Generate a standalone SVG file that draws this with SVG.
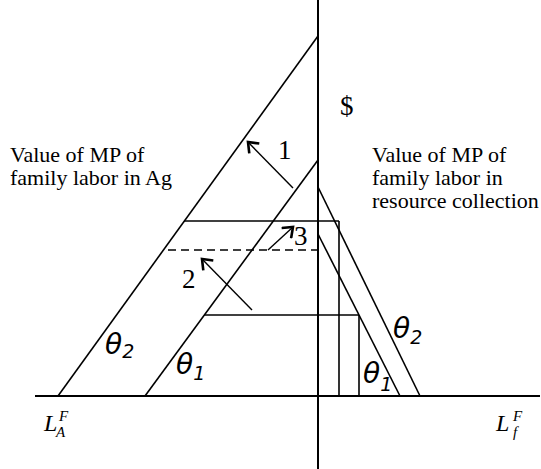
<svg xmlns="http://www.w3.org/2000/svg" width="541" height="469" viewBox="0 0 541 469">
<style>
.ln{stroke:#000;stroke-width:1.6;fill:none}
.ax{stroke:#000;stroke-width:2;fill:none}
.dash{stroke:#000;stroke-width:1.6;fill:none;stroke-dasharray:8 5}
.arr{stroke:#000;stroke-width:1.4;fill:none;marker-end:url(#head)}
.t{font-family:"Liberation Serif","Times New Roman",serif;font-size:22px;fill:#000}
.n{font-family:"Liberation Serif","Times New Roman",serif;font-size:27px;fill:#000}
.th{font-family:"DejaVu Sans",sans-serif;font-style:italic;font-size:28px;fill:#000}
.sub{font-family:"DejaVu Sans",sans-serif;font-style:italic;font-size:19px;fill:#000}
.L{font-family:"Liberation Serif","Times New Roman",serif;font-style:italic;font-size:24px;fill:#000}
.Ls{font-family:"Liberation Serif","Times New Roman",serif;font-style:italic;font-size:15px;fill:#000}
</style>
<defs>
<marker id="head" markerUnits="userSpaceOnUse" markerWidth="16" markerHeight="16" refX="12" refY="8" orient="auto">
<path d="M3,1 L12,8 L3,15" fill="none" stroke="#000" stroke-width="2.6"/>
</marker>
</defs>
<g id="axes">
<line class="ax" x1="35" y1="396" x2="540" y2="396"/>
<line class="ax" x1="318" y1="0" x2="318" y2="469"/>
</g>
<g id="ag-curves">
<line class="ln" x1="58" y1="396" x2="318" y2="36"/>
<line class="ln" x1="145" y1="396" x2="318" y2="160"/>
</g>
<g id="rc-curves">
<line class="ln" x1="318" y1="187" x2="420" y2="396"/>
<line class="ln" x1="318" y1="234" x2="400" y2="396"/>
</g>
<g id="guides">
<line class="ln" x1="184" y1="221" x2="339" y2="221"/>
<line class="ln" x1="339" y1="221" x2="339" y2="396"/>
<line class="ln" x1="204" y1="315" x2="359" y2="315"/>
<line class="ln" x1="359" y1="315" x2="359" y2="396"/>
<line class="dash" x1="168" y1="250" x2="318" y2="250"/>
</g>
<g id="connectors">
<line class="arr" x1="293" y1="188" x2="248" y2="142"/>
<line class="arr" x1="252" y1="310" x2="202" y2="259"/>
<line class="arr" x1="268" y1="250" x2="293" y2="227"/>
</g>
<g id="labels">
<text class="t" x="10" y="162">Value of MP of</text>
<text class="t" x="10" y="185">family labor in Ag</text>
<text class="t" x="372" y="162">Value of MP of</text>
<text class="t" x="372" y="185">family labor in</text>
<text class="t" x="372" y="208">resource collection</text>
<text class="t" x="340" y="115" style="font-size:27px">$</text>
<text class="n" x="278" y="159">1</text>
<text class="n" x="182" y="288">2</text>
<text class="n" x="294" y="245">3</text>
<text class="th" x="105" y="354">θ<tspan class="sub" dy="4">2</tspan></text>
<text class="th" x="176" y="374">θ<tspan class="sub" dy="6">1</tspan></text>
<text class="th" x="393" y="338">θ<tspan class="sub" dy="6">2</tspan></text>
<text class="th" x="363" y="383">θ<tspan class="sub" dy="8">1</tspan></text>
<text class="L" x="44" y="431">L</text>
<text class="Ls" x="59" y="421">F</text>
<text class="Ls" x="56" y="437">A</text>
<text class="L" x="496" y="431">L</text>
<text class="Ls" x="513" y="421">F</text>
<text class="Ls" x="513" y="437">f</text>
</g>
</svg>
